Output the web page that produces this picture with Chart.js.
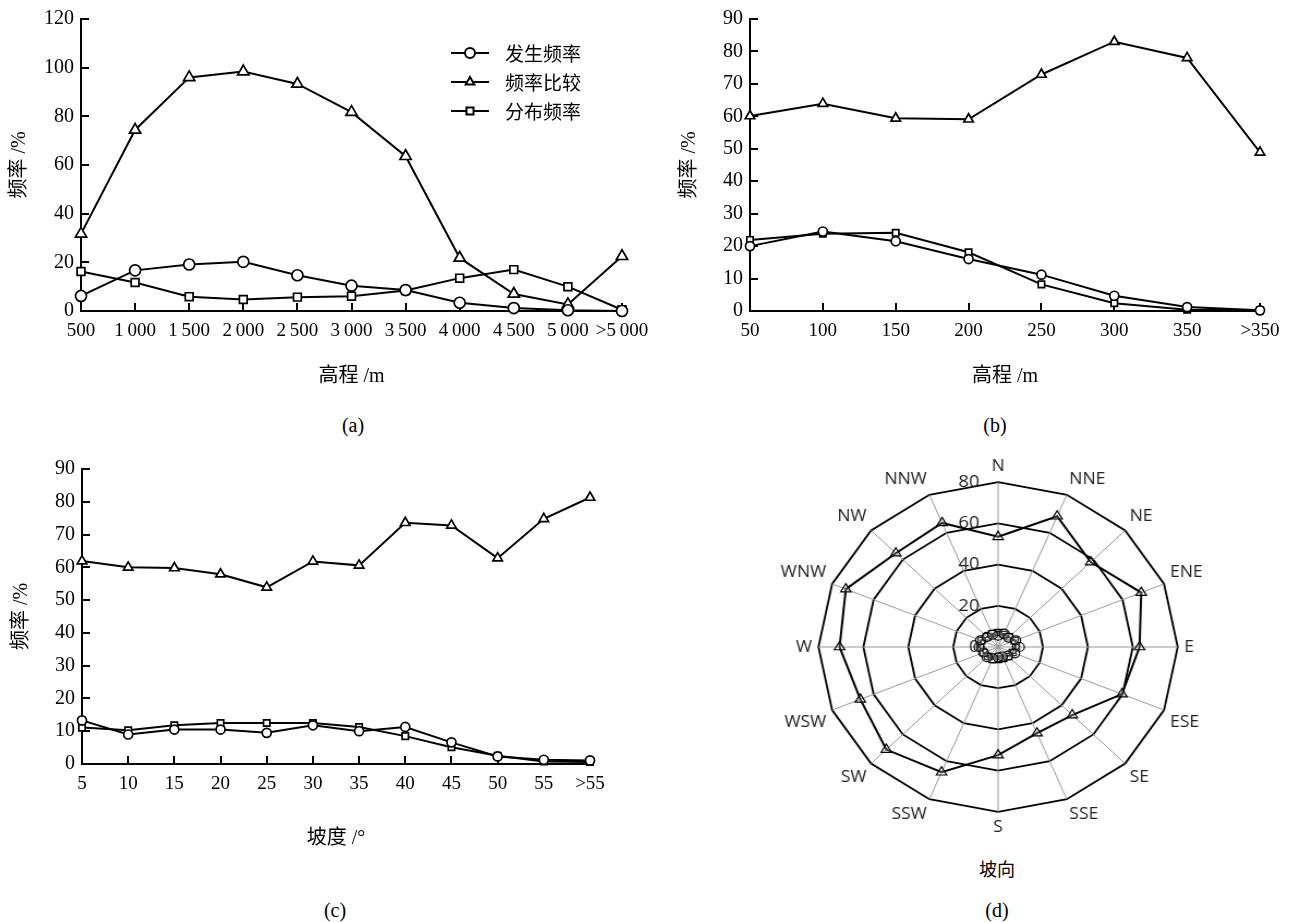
<!DOCTYPE html>
<html>
<head>
<meta charset="utf-8">
<script src="https://cdn.jsdelivr.net/npm/chart.js@4.4.0/dist/chart.umd.min.js"></script>
<style>
  body { margin: 0; background: #fff; width: 1294px; height: 922px; position: relative; overflow: hidden;
         font-family: "Liberation Serif", "Noto Sans CJK SC", serif; }
  canvas { position: absolute; }
  .cap { position: absolute; font-size: 20px; transform: translate(-50%, -50%); white-space: nowrap; color: #000; }
</style>
</head>
<body>
<canvas id="ca" width="660" height="395" style="left:0;top:0;width:660px;height:395px"></canvas>
<canvas id="cb" width="634" height="395" style="left:660px;top:0;width:634px;height:395px"></canvas>
<canvas id="cc" width="640" height="410" style="left:0;top:450px;width:640px;height:410px"></canvas>
<canvas id="cd" width="440" height="380" style="left:777px;top:457px;width:440px;height:380px;transform:scaleX(1.09);transform-origin:50% 50%"></canvas>

<div class="cap" style="left:353px;top:425px">(a)</div>
<div class="cap" style="left:995px;top:425px">(b)</div>
<div class="cap" style="left:335px;top:910px">(c)</div>
<div class="cap" style="left:997px;top:868px;font-family:'Noto Sans CJK SC';font-size:18px">坡向</div>
<div class="cap" style="left:997px;top:910px">(d)</div>

<script>
// 系列名
const seriesNames = ['发生频率', '频率比较', '分布频率'];

// (a) 高程
const elevA = ['500', '1\u2009000', '1\u2009500', '2\u2009000', '2\u2009500', '3\u2009000', '3\u2009500', '4\u2009000', '4\u2009500', '5\u2009000', '>5\u2009000'];
const occurA = [6.2, 16.7, 19.1, 20.2, 14.7, 10.4, 8.6, 3.4, 1.2, 0.3, 0];
const ratioA = [31.7, 74.4, 96, 98.4, 93.3, 81.7, 63.6, 21.8, 7.0, 2.7, 22.5];
const distA = [16.2, 11.7, 5.9, 4.7, 5.7, 6.1, 8.4, 13.5, 17, 10, 0.5];

// (b) 高程
const elevB = ['50', '100', '150', '200', '250', '300', '350', '>350'];
const occurB = [20, 24.5, 21.5, 16, 11.2, 4.7, 1.2, 0.2];
const ratioB = [60.1, 63.9, 59.4, 59.1, 72.9, 83, 78, 48.9];
const distB = [21.9, 23.8, 24.1, 18.1, 8.2, 2.4, 0.4, 0.2];

// (c) 坡度
const slopeC = ['5', '10', '15', '20', '25', '30', '35', '40', '45', '50', '55', '>55'];
const occurC = [13.3, 9, 10.5, 10.5, 9.5, 11.8, 10, 11.3, 6.6, 2.3, 1.3, 1.1];
const ratioC = [61.9, 60, 59.8, 57.9, 53.9, 61.8, 60.6, 73.6, 72.8, 62.8, 74.8, 81.3];
const distC = [11.1, 10.3, 11.8, 12.5, 12.5, 12.5, 11.3, 8.5, 5.1, 2.5, 0.8, 0.6];

// (d) 坡向
const aspectD = ['N', 'NNE', 'NE', 'ENE', 'E', 'ESE', 'SE', 'SSE', 'S', 'SSW', 'SW', 'WSW', 'W', 'WNW', 'NW', 'NNW'];
const ratioD = [53.5, 68.7, 58.3, 69, 63, 59.7, 46.7, 45.3, 52.5, 65.8, 70.4, 66.4, 70.6, 73.4, 64.4, 65.2];
const occurD = [5.5, 7, 6.5, 8.5, 9.5, 8, 6, 5, 5, 6, 7, 7, 8.5, 8.5, 7, 6.5];
const distD = [7, 6.5, 7, 8, 8, 7, 6.5, 6, 6, 6.5, 6.5, 7, 8, 8, 7, 7];

const serif = '"Liberation Serif", "Noto Sans CJK SC", serif';
const styles = ['circle', 'triangle', 'rect'];

// short tick marks pointing into the plot, under the data marks
const innerTicks = {
  id: 'innerTicks',
  beforeDatasetsDraw(chart) {
    const ctx = chart.ctx;
    const a = chart.chartArea;
    const xs = chart.scales.x;
    const ys = chart.scales.y;
    ctx.save();
    ctx.fillStyle = '#000';
    xs.ticks.forEach((t, i) => {
      const px = xs.getPixelForTick(i);
      ctx.fillRect(Math.round(px) - 1, a.bottom - 8, 2, 8);
    });
    ys.ticks.forEach((t, i) => {
      const py = ys.getPixelForTick(i);
      ctx.fillRect(a.left, Math.round(py) - 1, 8, 2);
    });
    ctx.restore();
  }
};

// legend inside panel (a)
const innerLegend = {
  id: 'innerLegend',
  afterDraw(chart, args, opts) {
    if (!opts.show) return;
    const ctx = chart.ctx;
    ctx.save();
    chart.data.datasets.forEach((ds, i) => {
      const y = 53 + i * 29;
      ctx.strokeStyle = '#000';
      ctx.lineWidth = 2;
      ctx.beginPath();
      ctx.moveTo(451, y);
      ctx.lineTo(489, y);
      ctx.stroke();
      ctx.fillStyle = '#fff';
      Chart.helpers.drawPoint(ctx, { pointStyle: ds.pointStyle, radius: 5, borderWidth: 1.5, rotation: 0 }, 470, y);
      ctx.fillStyle = '#000';
      ctx.font = '19px "Noto Sans CJK SC"';
      ctx.textBaseline = 'middle';
      ctx.fillText(ds.label, 505, y + 1);
    });
    ctx.restore();
  }
};

function makeLine(id, labels, occ, rat, dis, yMax, yStep, xTitle, geo) {
  const values = [occ, rat, dis];
  return new Chart(document.getElementById(id), {
    type: 'line',
    data: {
      labels: labels,
      datasets: seriesNames.map((name, i) => ({
        label: name,
        data: values[i],
        borderColor: '#000',
        borderWidth: 2,
        pointStyle: styles[i],
        pointRadius: i === 1 ? geo.r + 1 : geo.r,
        pointBorderWidth: 1.7,
        pointBackgroundColor: '#fff',
        pointBorderColor: '#000',
        tension: 0,
        clip: false
      }))
    },
    options: {
      responsive: false,
      animation: false,
      layout: { padding: { top: geo.top, right: geo.right, left: 0, bottom: 0 } },
      plugins: { legend: { display: false }, tooltip: { enabled: false }, innerLegend: { show: geo.legend } },
      scales: {
        x: {
          grid: { display: false, drawTicks: false },
          border: { color: '#000', width: 2 },
          ticks: { color: '#000', padding: 9, maxRotation: 0, autoSkip: false, font: { family: serif, size: 19 } },
          title: { display: true, text: xTitle, color: '#000', font: { family: serif, size: 20 }, padding: { top: 0, bottom: geo.xtPad } },
          afterFit: s => { s.height = geo.xh; }
        },
        y: {
          min: 0, max: yMax,
          grid: { display: false, drawTicks: false },
          border: { color: '#000', width: 2 },
          ticks: { stepSize: yStep, color: '#000', padding: 7, font: { family: serif, size: 20 } },
          title: { display: true, text: '频率 /%', color: '#000', font: { family: serif, size: 20 }, padding: { top: geo.ytPad, bottom: 0 } },
          afterFit: s => { s.width = geo.yw; }
        }
      }
    },
    plugins: [innerTicks, innerLegend]
  });
}

makeLine('ca', elevA, occurA, ratioA, distA, 120, 20, '高程 /m',
  { r: 5.5, top: 14, right: 38, xh: 84, yw: 81, xtPad: 6, ytPad: 8, legend: true });
makeLine('cb', elevB, occurB, ratioB, distB, 90, 10, '高程 /m',
  { r: 4.5, top: 13, right: 34, xh: 84, yw: 90, xtPad: 6, ytPad: 18, legend: false });
makeLine('cc', slopeC, occurC, ratioC, distC, 90, 10, '坡度 /°',
  { r: 4.5, top: 14, right: 50, xh: 96, yw: 82, xtPad: 9, ytPad: 10, legend: false });

// radial tick labels drawn left of the N spoke
const radialLabels = {
  id: 'radialLabels',
  afterDraw(chart) {
    const r = chart.scales.r;
    const ctx = chart.ctx;
    ctx.save();
    ctx.fillStyle = '#222';
    ctx.font = '17px "Open Sans", "Noto Sans", sans-serif';
    ctx.textAlign = 'right';
    ctx.textBaseline = 'middle';
    r.ticks.forEach(t => {
      const d = r.getDistanceFromCenterForValue(t.value);
      ctx.fillText(String(t.value), r.xCenter - 17, r.yCenter - d);
    });
    ctx.restore();
  }
};

const radarValues = [occurD, ratioD, distD];
new Chart(document.getElementById('cd'), {
  type: 'radar',
  data: {
    labels: aspectD,
    datasets: seriesNames.map((name, i) => ({
      label: name,
      data: radarValues[i],
      borderColor: '#000',
      borderWidth: i === 1 ? 2 : 1.2,
      backgroundColor: 'rgba(0,0,0,0)',
      fill: false,
      pointStyle: styles[i],
      pointRadius: i === 1 ? 5.5 : 4.5,
      pointBorderWidth: 1.2,
      pointBackgroundColor: 'rgba(255,255,255,0.2)',
      pointBorderColor: '#000'
    }))
  },
  options: {
    responsive: false,
    animation: false,
    plugins: { legend: { display: false }, tooltip: { enabled: false } },
    scales: {
      r: {
        min: 0, max: 80,
        ticks: { stepSize: 20, display: false },
        grid: { color: '#000', lineWidth: 1.8 },
        angleLines: { color: '#999', lineWidth: 1 },
        pointLabels: { color: '#222', padding: 6, font: { family: '"Open Sans", "Noto Sans", sans-serif', size: 16 } }
      }
    }
  },
  plugins: [radialLabels]
});
</script>
</body>
</html>
